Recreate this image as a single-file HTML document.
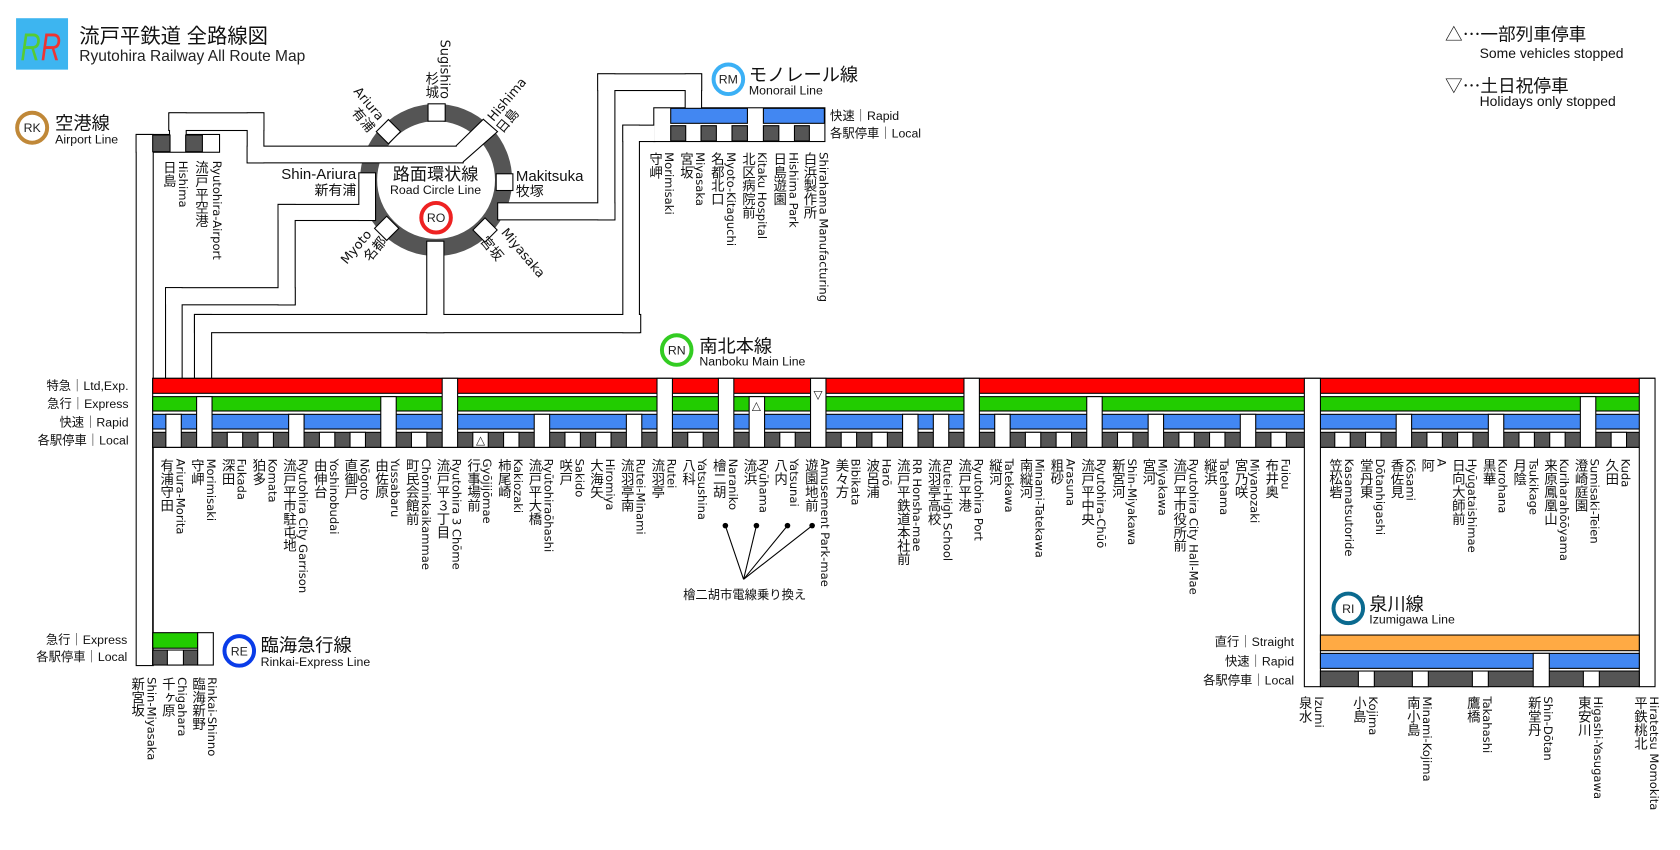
<!DOCTYPE html>
<html><head><meta charset="utf-8">
<style>
html,body{margin:0;padding:0;background:#fff;overflow:hidden;width:1680px;height:850px}
#w{position:absolute;left:0;top:0;width:1568px;height:793px;transform:scale(1.0714286);transform-origin:0 0}
svg{position:absolute;left:0;top:0}
.v{position:absolute;writing-mode:vertical-rl;white-space:nowrap;width:14px;line-height:14px;color:#111}
.j{font-family:"Noto Sans CJK JP","WenQuanYi Zen Hei",sans-serif;font-size:12.5px}
.e{font-family:"DejaVu Sans",sans-serif;font-size:10.8px}
.m{top:428px}.mo{top:141.6px}.ap{top:150.3px}.rk{top:631.6px}.iz{top:650.2px}
</style></head><body><div id="w">
<svg width="1568" height="793" viewBox="0 0 1568 793" font-family="'Liberation Sans','Noto Sans CJK JP',sans-serif">
<rect x="15" y="17" width="48.5" height="48" fill="#3db5f0"/>
<text x="19" y="56" font-size="36" font-style="italic" fill="#5c3" textLength="19" lengthAdjust="spacingAndGlyphs">R</text>
<text x="38" y="56" font-size="36" font-style="italic" fill="#e33" textLength="19" lengthAdjust="spacingAndGlyphs">R</text>
<text x="74" y="40" font-size="19" fill="#111">流戸平鉄道 全路線図</text>
<text x="74" y="57" font-size="14.5" fill="#222">Ryutohira Railway All Route Map</text>

<circle cx="407" cy="168" r="63" fill="none" stroke="#555" stroke-width="16"/>

<g fill="#000">
<rect x="157" y="104.8" width="89.8" height="17.5"/>
<rect x="157.7" y="104.8" width="16.6" height="23"/>
<rect x="230.2" y="104.8" width="16.6" height="47.7"/>
<rect x="230.2" y="135.9" width="202.6" height="16.6"/>
<rect x="126.6" y="125" width="16.9" height="496.7"/>
<rect x="126.6" y="125" width="78.8" height="17.6"/>
<rect x="334.4" y="160.8" width="16.6" height="45.5"/>
<rect x="259" y="190.3" width="92" height="16"/>
<rect x="259" y="190.3" width="17" height="94.8"/>
<rect x="154" y="268" width="122" height="17"/>
<rect x="154" y="268" width="16.5" height="86"/>
<rect x="397.8" y="224.6" width="17" height="86.4"/>
<rect x="181" y="293" width="417.5" height="18"/>
<rect x="181" y="293" width="17" height="61"/>
<rect x="580.8" y="116.3" width="16.5" height="194.7"/>
<rect x="580.8" y="116.3" width="31" height="16.3"/>
<rect x="464" y="188.8" width="110.4" height="16.9"/>
<rect x="557.4" y="68.4" width="17" height="137.3"/>
<rect x="557.4" y="68.4" width="98" height="16.6"/>
<rect x="639" y="68.4" width="16.3" height="33.7"/>
<rect x="609.7" y="100.1" width="160.7" height="32.5"/>
<rect x="399" y="96.4" width="17" height="17.2"/>
<rect x="462.6" y="161.7" width="16.6" height="16.6"/>
<rect x="354" y="114.4" width="17" height="17" transform="rotate(45 362.5 122.9)"/>
<rect x="352.4" y="204.6" width="17" height="17" transform="rotate(45 360.9 213.1)"/>
<rect x="444.2" y="206.2" width="17" height="17" transform="rotate(45 452.7 214.7)"/>
<polygon points="426.2,136.3 451.1,112 463.6,122.9 431.8,150.9" stroke="#000" stroke-width="2" stroke-linejoin="miter"/>
</g>
<g fill="#fff">
<rect x="158" y="105.8" width="87.8" height="15.5"/>
<rect x="158.7" y="105.8" width="14.6" height="21"/>
<rect x="231.2" y="105.8" width="14.6" height="45.7"/>
<rect x="231.2" y="136.9" width="200.6" height="14.6"/>
<rect x="127.6" y="126" width="14.9" height="494.7"/>
<rect x="127.6" y="126" width="76.8" height="15.6"/>
<rect x="335.4" y="161.8" width="14.6" height="43.5"/>
<rect x="260" y="191.3" width="90" height="14"/>
<rect x="260" y="191.3" width="15" height="92.8"/>
<rect x="155" y="269" width="120" height="15"/>
<rect x="155" y="269" width="14.5" height="85"/>
<rect x="398.8" y="225.6" width="15" height="84.4"/>
<rect x="182" y="294" width="415.5" height="16"/>
<rect x="182" y="294" width="15" height="60"/>
<rect x="581.8" y="117.3" width="14.5" height="192.7"/>
<rect x="581.8" y="117.3" width="29" height="14.3"/>
<rect x="465" y="189.8" width="108.4" height="14.9"/>
<rect x="558.4" y="69.4" width="15" height="135.3"/>
<rect x="558.4" y="69.4" width="96" height="14.6"/>
<rect x="640" y="69.4" width="14.3" height="31.7"/>
<rect x="610.7" y="101.1" width="158.7" height="30.5"/>
<rect x="400" y="97.4" width="15" height="15.2"/>
<rect x="463.6" y="162.7" width="14.6" height="14.6"/>
<rect x="355" y="115.4" width="15" height="15" transform="rotate(45 362.5 122.9)"/>
<rect x="353.4" y="205.6" width="15" height="15" transform="rotate(45 360.9 213.1)"/>
<rect x="445.2" y="207.2" width="15" height="15" transform="rotate(45 452.7 214.7)"/>
<polygon points="426.2,136.3 451.1,112 463.6,122.9 431.8,150.9"/>
<rect x="420" y="137.5" width="12" height="13.4"/>
</g>

<g stroke="#000" stroke-width="1" fill="#555">
<rect x="142.5" y="126" width="16.2" height="15.6"/>
<rect x="173.3" y="126" width="15.6" height="15.6"/>
</g>
<g stroke="#000" stroke-width="1">
<rect x="626" y="101.1" width="71.6" height="14" fill="#4287f2"/>
<rect x="712.5" y="101.1" width="56.9" height="14" fill="#4287f2"/>
<g fill="#555">
<rect x="626" y="117.3" width="14" height="14.3"/>
<rect x="654.3" y="117.3" width="14.3" height="14.3"/>
<rect x="683.2" y="117.3" width="14.4" height="14.3"/>
<rect x="712.5" y="117.3" width="14.4" height="14.3"/>
<rect x="741.5" y="117.3" width="13.9" height="14.3"/>
</g>
</g>

<g stroke="#000" stroke-width="1">
<rect x="142.5" y="353.1" width="1402" height="64.4" fill="#fff"/>
<rect x="142.5" y="353.1" width="1402" height="14" fill="#f00"/>
<rect x="142.5" y="370.2" width="1402" height="13.4" fill="#2c0"/>
<rect x="142.5" y="386.7" width="1402" height="13.7" fill="#4287f2"/>
<rect x="142.5" y="403.5" width="1402" height="14" fill="#555"/>
<rect x="1217.4" y="353.1" width="15" height="287.8" fill="#fff"/>
<rect x="1530" y="353.1" width="14.7" height="287.8" fill="#fff"/>
<g fill="#fff">
<rect x="154.8" y="386.7" width="14.4" height="30.8"/>
<rect x="183.5" y="370.2" width="14.4" height="47.3"/>
<rect x="212.1" y="403.5" width="14.4" height="14"/>
<rect x="240.8" y="403.5" width="14.4" height="14"/>
<rect x="269.4" y="386.7" width="14.4" height="30.8"/>
<rect x="298.1" y="403.5" width="14.4" height="14"/>
<rect x="326.7" y="403.5" width="14.4" height="14"/>
<rect x="355.4" y="370.2" width="14.4" height="47.3"/>
<rect x="384.0" y="403.5" width="14.4" height="14"/>
<rect x="412.7" y="353.1" width="14.4" height="64.4"/>
<rect x="441.3" y="403.5" width="14.4" height="14"/>
<rect x="470.0" y="403.5" width="14.4" height="14"/>
<rect x="498.6" y="386.7" width="14.4" height="30.8"/>
<rect x="527.3" y="403.5" width="14.4" height="14"/>
<rect x="555.9" y="403.5" width="14.4" height="14"/>
<rect x="584.6" y="386.7" width="14.4" height="30.8"/>
<rect x="613.2" y="353.1" width="14.4" height="64.4"/>
<rect x="641.9" y="403.5" width="14.4" height="14"/>
<rect x="670.5" y="353.1" width="14.4" height="64.4"/>
<rect x="699.2" y="370.2" width="14.4" height="47.3"/>
<rect x="727.8" y="403.5" width="14.4" height="14"/>
<rect x="756.5" y="353.1" width="14.4" height="64.4"/>
<rect x="785.1" y="403.5" width="14.4" height="14"/>
<rect x="813.8" y="403.5" width="14.4" height="14"/>
<rect x="842.4" y="386.7" width="14.4" height="30.8"/>
<rect x="871.1" y="386.7" width="14.4" height="30.8"/>
<rect x="899.7" y="353.1" width="14.4" height="64.4"/>
<rect x="928.4" y="386.7" width="14.4" height="30.8"/>
<rect x="957.0" y="403.5" width="14.4" height="14"/>
<rect x="985.7" y="403.5" width="14.4" height="14"/>
<rect x="1014.3" y="370.2" width="14.4" height="47.3"/>
<rect x="1043.0" y="403.5" width="14.4" height="14"/>
<rect x="1071.6" y="386.7" width="14.4" height="30.8"/>
<rect x="1100.3" y="403.5" width="14.4" height="14"/>
<rect x="1128.9" y="403.5" width="14.4" height="14"/>
<rect x="1157.6" y="386.7" width="14.4" height="30.8"/>
<rect x="1186.2" y="403.5" width="14.4" height="14"/>
<rect x="1245.8" y="403.5" width="14.4" height="14"/>
<rect x="1274.5" y="403.5" width="14.4" height="14"/>
<rect x="1303.1" y="386.7" width="14.4" height="30.8"/>
<rect x="1331.8" y="403.5" width="14.4" height="14"/>
<rect x="1360.4" y="403.5" width="14.4" height="14"/>
<rect x="1389.1" y="386.7" width="14.4" height="30.8"/>
<rect x="1417.7" y="403.5" width="14.4" height="14"/>
<rect x="1446.4" y="403.5" width="14.4" height="14"/>
<rect x="1475.0" y="370.2" width="14.4" height="47.3"/>
<rect x="1503.7" y="403.5" width="14.4" height="14"/>
</g>
<rect x="1232.4" y="592.7" width="297.6" height="14.6" fill="#fa4"/>
<rect x="1232.4" y="609.8" width="297.6" height="14" fill="#4287f2"/>
<rect x="1232.4" y="626.3" width="297.6" height="14.6" fill="#555"/>
<g fill="#fff">
<rect x="1267.8" y="626.3" width="14.9" height="14.6"/>
<rect x="1318.2" y="626.3" width="14.9" height="14.6"/>
<rect x="1374.2" y="626.3" width="14.9" height="14.6"/>
<rect x="1477.8" y="626.3" width="14.9" height="14.6"/>
<rect x="1431" y="609.8" width="15" height="31.1"/>
</g>
<rect x="142.5" y="590.5" width="42" height="14.5" fill="#2c0"/>
<rect x="142.5" y="606.7" width="42" height="14" fill="#555"/>
<rect x="156.2" y="606.7" width="15" height="14" fill="#fff"/>
<rect x="184.5" y="590.5" width="14.6" height="30.2" fill="#fff"/>
</g>
<line x1="142.5" y1="417.5" x2="142.5" y2="620.7" stroke="#000"/>

<g font-family="'DejaVu Sans',sans-serif" font-size="11" text-anchor="middle" fill="#222">
<text x="448.5" y="414.5">△</text>
<text x="706" y="382">△</text>
<text x="763.5" y="372">▽</text>
</g>

<g stroke="#000" stroke-width="1">
<line x1="677" y1="490.6" x2="694" y2="540.7"/>
<line x1="706" y1="490.6" x2="694" y2="540.7"/>
<line x1="735" y1="490.6" x2="694" y2="540.7"/>
<line x1="758" y1="490.6" x2="694" y2="540.7"/>
</g>
<g fill="#000"><circle cx="677" cy="490.6" r="2.6"/><circle cx="706" cy="490.6" r="2.6"/><circle cx="735" cy="490.6" r="2.6"/><circle cx="758" cy="490.6" r="2.6"/></g>
<text x="695" y="559" font-size="11.5" text-anchor="middle" fill="#111">檜二胡市電線乗り換え</text>

<g fill="none" stroke-width="3.7">
<circle cx="30" cy="119.2" r="14" stroke="#c08838"/>
<circle cx="407" cy="203.2" r="13.8" stroke="#ee2222"/>
<circle cx="679.8" cy="74" r="13.8" stroke="#3bb0f5"/>
<circle cx="631.6" cy="326.7" r="13.8" stroke="#33cc22"/>
<circle cx="223.3" cy="607.5" r="13.8" stroke="#0a3ce8"/>
<circle cx="1258.4" cy="567.8" r="13.8" stroke="#0b6a8f"/>
</g>
<g font-size="11.5" text-anchor="middle" fill="#222">
<text x="30" y="123.3">RK</text>
<text x="407" y="207.3">RO</text>
<text x="679.8" y="78.1">RM</text>
<text x="631.6" y="330.8">RN</text>
<text x="223.3" y="611.6">RE</text>
<text x="1258.4" y="571.9">RI</text>
</g>
<g fill="#111">
<text x="51.5" y="121" font-size="17">空港線</text>
<text x="51.5" y="134" font-size="11.5">Airport Line</text>
<text x="406.5" y="168" font-size="16" text-anchor="middle">路面環状線</text>
<text x="406.5" y="181" font-size="11.5" text-anchor="middle">Road Circle Line</text>
<text x="332.5" y="167" font-size="14" text-anchor="end">Shin-Ariura</text>
<text x="332.5" y="182" font-size="13" text-anchor="end">新有浦</text>
<text x="481.5" y="169" font-size="14">Makitsuka</text>
<text x="481.5" y="183" font-size="13">牧塚</text>
<text x="699" y="75.5" font-size="17">モノレール線</text>
<text x="699" y="88" font-size="11.5">Monorail Line</text>
<text x="774.7" y="112" font-size="11.5">快速｜Rapid</text>
<text x="774.7" y="128.2" font-size="11.5">各駅停車｜Local</text>
<text x="652.7" y="329" font-size="17">南北本線</text>
<text x="652.7" y="341" font-size="11.5">Nanboku Main Line</text>
<g font-size="11.5" text-anchor="end">
<text x="120" y="364">特急｜Ltd,Exp.</text>
<text x="120" y="381">急行｜Express</text>
<text x="120" y="398">快速｜Rapid</text>
<text x="120" y="415">各駅停車｜Local</text>
<text x="118.8" y="601">急行｜Express</text>
<text x="118.8" y="617">各駅停車｜Local</text>
<text x="1207.8" y="603">直行｜Straight</text>
<text x="1207.8" y="621">快速｜Rapid</text>
<text x="1207.8" y="638.7">各駅停車｜Local</text>
</g>
<text x="1348.7" y="38" font-size="16.5" font-family="'Noto Sans CJK JP',sans-serif">△⋯一部列車停車</text>
<text x="1381" y="54" font-size="13">Some vehicles stopped</text>
<text x="1348.7" y="86" font-size="16.5" font-family="'Noto Sans CJK JP',sans-serif">▽⋯土日祝停車</text>
<text x="1381" y="99" font-size="13">Holidays only stopped</text>
<text x="243.3" y="608" font-size="17">臨海急行線</text>
<text x="243.3" y="621.5" font-size="11.5">Rinkai-Express Line</text>
<text x="1278" y="570" font-size="17">泉川線</text>
<text x="1278" y="582" font-size="11.5">Izumigawa Line</text>
</g>
<g text-anchor="middle" dominant-baseline="central" fill="#111">
<text font-family="'DejaVu Sans',sans-serif" font-size="12" transform="translate(343.7,97.2) rotate(50)">Ariura</text>
<text font-size="12.5" transform="translate(339,112) rotate(50)">有浦</text>
<text font-family="'DejaVu Sans',sans-serif" font-size="12" transform="translate(473.7,93.3) rotate(-50)">Hishima</text>
<text font-size="12.5" transform="translate(473.7,112.8) rotate(-50)">日島</text>
<text font-family="'DejaVu Sans',sans-serif" font-size="12" transform="translate(333,231) rotate(-50)">Myoto</text>
<text font-size="12.5" transform="translate(350,232.5) rotate(-50)">名都</text>
<text font-family="'DejaVu Sans',sans-serif" font-size="12" transform="translate(487.7,236.5) rotate(50)">Miyasaka</text>
<text font-size="12.5" transform="translate(459,232) rotate(50)">宮坂</text>
</g>
</svg>

<div class="v e" style="left:408px;top:37px;font-size:12px">Sugishiro</div>
<div class="v j" style="left:396px;top:67px">杉城</div>

<div class="v j ap" style="left:151px">日島</div>
<div class="v e ap" style="left:163px">Hishima</div>
<div class="v j ap" style="left:181px">流戸平空港</div>
<div class="v e ap" style="left:195px">Ryutohira-Airport</div>

<div class="v j mo" style="left:604.8px">守岬</div><div class="v e mo" style="left:616.8px">Morimisaki</div>
<div class="v j mo" style="left:633.7px">宮坂</div><div class="v e mo" style="left:645.7px">Miyasaka</div>
<div class="v j mo" style="left:662.5px">名都北口</div><div class="v e mo" style="left:674.5px">Myoto-Kitaguchi</div>
<div class="v j mo" style="left:691.5px">北区病院前</div><div class="v e mo" style="left:703.5px">Kitaku Hospital</div>
<div class="v j mo" style="left:720.7px">日島遊園</div><div class="v e mo" style="left:732.7px">Hishima Park</div>
<div class="v j mo" style="left:748.9px">白浜製作所</div><div class="v e mo" style="left:760.9px">Shirahama Manufacturing</div>

<div class="v j m" style="left:148.5px">有浦守田</div><div class="v e m" style="left:160.5px">Ariura-Morita</div>
<div class="v j m" style="left:177.2px">守岬</div><div class="v e m" style="left:189.2px">Morimisaki</div>
<div class="v j m" style="left:205.8px">深田</div><div class="v e m" style="left:217.8px">Fukada</div>
<div class="v j m" style="left:234.5px">狛多</div><div class="v e m" style="left:246.5px">Komata</div>
<div class="v j m" style="left:263.1px">流戸平市駐屯地</div><div class="v e m" style="left:275.1px">Ryutohira City Garrison</div>
<div class="v j m" style="left:291.8px">由伸台</div><div class="v e m" style="left:303.8px">Yoshinobudai</div>
<div class="v j m" style="left:320.4px">直御戸</div><div class="v e m" style="left:332.4px">Nōgoto</div>
<div class="v j m" style="left:349.1px">由佐原</div><div class="v e m" style="left:361.1px">Yussabaru</div>
<div class="v j m" style="left:377.7px">町民会館前</div><div class="v e m" style="left:389.7px">Chōminkaikammae</div>
<div class="v j m" style="left:406.4px">流戸平３丁目</div><div class="v e m" style="left:418.4px">Ryutohira 3 Chōme</div>
<div class="v j m" style="left:435px">行事場前</div><div class="v e m" style="left:447px">Gyōjijōmae</div>
<div class="v j m" style="left:463.7px">柿尾崎</div><div class="v e m" style="left:475.7px">Kakiozaki</div>
<div class="v j m" style="left:492.3px">流戸平大橋</div><div class="v e m" style="left:504.3px">Ryūtohiraōhashi</div>
<div class="v j m" style="left:521px">咲戸</div><div class="v e m" style="left:533px">Sakido</div>
<div class="v j m" style="left:549.6px">大海矢</div><div class="v e m" style="left:561.6px">Hiromiya</div>
<div class="v j m" style="left:578.3px">流羽亭南</div><div class="v e m" style="left:590.3px">Rutei-Minami</div>
<div class="v j m" style="left:606.9px">流羽亭</div><div class="v e m" style="left:618.9px">Rutei</div>
<div class="v j m" style="left:635.6px">八科</div><div class="v e m" style="left:647.6px">Yatsushina</div>
<div class="v j m" style="left:664.2px">檜二胡</div><div class="v e m" style="left:676.2px">Naraniko</div>
<div class="v j m" style="left:692.9px">流浜</div><div class="v e m" style="left:704.9px">Ryūhama</div>
<div class="v j m" style="left:721.5px">八内</div><div class="v e m" style="left:733.5px">Yatsunai</div>
<div class="v j m" style="left:750.2px">遊園地前</div><div class="v e m" style="left:762.2px">Amusement Park-mae</div>
<div class="v j m" style="left:778.8px">美々方</div><div class="v e m" style="left:790.8px">Bibikata</div>
<div class="v j m" style="left:807.5px">波呂浦</div><div class="v e m" style="left:819.5px">Harō</div>
<div class="v j m" style="left:836.1px">流戸平鉄道本社前</div><div class="v e m" style="left:848.1px">RR Honsha-mae</div>
<div class="v j m" style="left:864.8px">流羽亭高校</div><div class="v e m" style="left:876.8px">Rutei-High School</div>
<div class="v j m" style="left:893.4px">流戸平港</div><div class="v e m" style="left:905.4px">Ryutohira Port</div>
<div class="v j m" style="left:922.1px">縦河</div><div class="v e m" style="left:934.1px">Tatekawa</div>
<div class="v j m" style="left:950.7px">南縦河</div><div class="v e m" style="left:962.7px">Minami-Tatekawa</div>
<div class="v j m" style="left:979.4px">粗砂</div><div class="v e m" style="left:991.4px">Arasuna</div>
<div class="v j m" style="left:1008px">流戸平中央</div><div class="v e m" style="left:1020px">Ryutohira-Chūō</div>
<div class="v j m" style="left:1036.7px">新宮河</div><div class="v e m" style="left:1048.7px">Shin-Miyakawa</div>
<div class="v j m" style="left:1065.3px">宮河</div><div class="v e m" style="left:1077.3px">Miyakawa</div>
<div class="v j m" style="left:1094px">流戸平市役所前</div><div class="v e m" style="left:1106px">Ryutohira City Hall-Mae</div>
<div class="v j m" style="left:1122.6px">縦浜</div><div class="v e m" style="left:1134.6px">Tatehama</div>
<div class="v j m" style="left:1151.3px">宮乃咲</div><div class="v e m" style="left:1163.3px">Miyanozaki</div>
<div class="v j m" style="left:1179.9px">布井奥</div><div class="v e m" style="left:1191.9px">Fuiou</div>
<div class="v j m" style="left:1239.5px">笠松砦</div><div class="v e m" style="left:1251.5px">Kasamatsutoride</div>
<div class="v j m" style="left:1268.2px">堂丹東</div><div class="v e m" style="left:1280.2px">Dōtanhigashi</div>
<div class="v j m" style="left:1296.8px">香佐見</div><div class="v e m" style="left:1308.8px">Kōsami</div>
<div class="v j m" style="left:1325.5px">阿</div><div class="v e m" style="left:1337.5px">A</div>
<div class="v j m" style="left:1354.1px">日向大師前</div><div class="v e m" style="left:1366.1px">Hyūgataishimae</div>
<div class="v j m" style="left:1382.8px">黒華</div><div class="v e m" style="left:1394.8px">Kurohana</div>
<div class="v j m" style="left:1411.4px">月陰</div><div class="v e m" style="left:1423.4px">Tsukikage</div>
<div class="v j m" style="left:1440.1px">来原鳳凰山</div><div class="v e m" style="left:1452.1px">Kuriharahōōyama</div>
<div class="v j m" style="left:1468.7px">澄崎庭園</div><div class="v e m" style="left:1480.7px">Sumisaki-Teien</div>
<div class="v j m" style="left:1497.4px">久田</div><div class="v e m" style="left:1509.4px">Kuda</div>

<div class="v j rk" style="left:121.5px">新宮坂</div><div class="v e rk" style="left:133.5px">Shin-Miyasaka</div>
<div class="v j rk" style="left:150.1px">千ヶ原</div><div class="v e rk" style="left:162.1px">Chigahara</div>
<div class="v j rk" style="left:178.3px">臨海新野</div><div class="v e rk" style="left:190.3px">Rinkai-Shinno</div>

<div class="v j iz" style="left:1211.2px">泉水</div><div class="v e iz" style="left:1223.2px">Izumi</div>
<div class="v j iz" style="left:1261.7px">小島</div><div class="v e iz" style="left:1273.7px">Kojima</div>
<div class="v j iz" style="left:1312.1px">南小島</div><div class="v e iz" style="left:1324.1px">Minami-Kojima</div>
<div class="v j iz" style="left:1368.1px">鷹橋</div><div class="v e iz" style="left:1380.1px">Takahashi</div>
<div class="v j iz" style="left:1425px">新堂丹</div><div class="v e iz" style="left:1437px">Shin-Dōtan</div>
<div class="v j iz" style="left:1471.7px">東安川</div><div class="v e iz" style="left:1483.7px">Higashi-Yasugawa</div>
<div class="v j iz" style="left:1524px">平鉄桃北</div><div class="v e iz" style="left:1536px">Hiratetsu Momokita</div>
</div></body></html>
